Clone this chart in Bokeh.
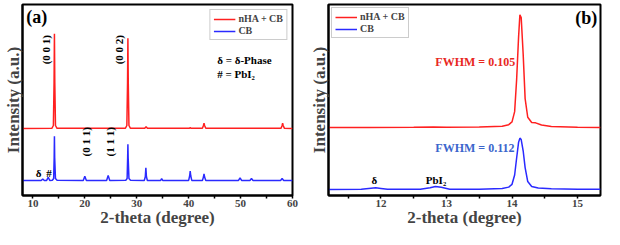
import numpy as np
from bokeh.plotting import figure
from bokeh.layouts import row
from bokeh.models import Range1d, Label, Legend, LegendItem, FixedTicker
from bokeh.embed import file_html
from bokeh.resources import INLINE

FONT = "Liberation Serif"
RED = "#ff2020"
BLUE = "#2a2aff"
RED_TXT = "#e8281e"
BLUE_TXT = "#3b66cc"
X_TITLE = "2-theta (degree)"
Y_TITLE = "Intensity (a.u.)"

# ---------------- panel (a): full pattern ----------------
a_nha_x = [8.0, 13.65, 13.95, 14.08, 14.15, 14.22, 14.35, 14.65, 27.8, 28.1, 28.23, 28.3, 28.37, 28.5, 28.8,
           31.55, 31.8, 32.05, 40.1, 40.3, 40.5, 42.65, 42.85, 42.96, 43.07, 43.3, 57.8, 58.0, 58.1, 58.2, 58.45, 60.0]
a_nha_y = [356, 357, 372, 600, 860, 600, 372, 357, 357, 372, 600, 835, 600, 372, 357,
           357, 366, 357, 357, 360, 357, 357, 372, 385, 372, 357, 357, 372, 384, 372, 357, 356]
a_cb_x = [8.0, 11.6, 11.9, 12.2, 12.65, 12.95, 13.25, 13.75, 14.0, 14.1, 14.15, 14.2, 14.35, 14.65,
          19.7, 20.0, 20.3, 24.2, 24.5, 24.8, 27.9, 28.15, 28.25, 28.3, 28.35, 28.5, 28.8,
          31.45, 31.65, 31.76, 31.87, 32.05, 34.6, 34.8, 35.0, 40.0, 40.2, 40.3, 40.4, 40.6,
          42.65, 42.85, 42.96, 43.07, 43.3, 49.6, 49.9, 50.2, 51.8, 52.1, 52.4, 57.7, 58.0, 58.3, 60.0]
a_cb_y = [80, 80, 88, 80, 80, 97, 80, 81, 90, 200, 315, 200, 90, 81,
          80, 102, 80, 80, 107, 80, 81, 90, 200, 272, 200, 90, 81,
          80, 100, 147, 100, 80, 80, 89, 80, 80, 105, 130, 105, 80,
          80, 98, 115, 98, 80, 80, 93, 80, 80, 90, 80, 80, 90, 80, 80]
a_xticks = [10, 20, 30, 40, 50, 60]

# ---------------- panel (b): zoom around 14 deg ----------------
b_nha_x = [11.2, 11.8, 12.5, 12.8, 13.0, 13.5, 13.85, 13.95, 14.0, 14.04, 14.07, 14.1, 14.12, 14.14,
           14.17, 14.2, 14.24, 14.3, 14.36, 14.45, 14.6, 15.0, 15.35]
b_nha_y = [365, 365, 366, 368, 366, 367, 372, 380, 395, 450, 620, 850, 970, 955,
           760, 520, 420, 392, 390, 378, 370, 366, 365]
b_cb_x = [11.2, 11.7, 11.85, 11.92, 12.0, 12.1, 12.6, 12.75, 12.83, 12.92, 13.05, 13.5, 13.85, 13.95,
          14.0, 14.04, 14.07, 14.1, 14.12, 14.14, 14.17, 14.2, 14.24, 14.3, 14.4, 14.6, 15.0, 15.35]
b_cb_y = [32, 33, 39, 41.5, 38, 33, 33, 42, 48.5, 44, 34, 34, 37, 45,
          60, 110, 200, 285, 308, 300, 240, 150, 75, 48, 40, 36, 34, 33]
b_xticks = [12, 13, 14, 15]


def make_fig(width, xr, yr, ticks, left_border, right_border):
    p = figure(width=width, height=229, output_backend="svg", toolbar_location=None,
               x_range=Range1d(*xr), y_range=Range1d(*yr),
               min_border_left=left_border, min_border_right=right_border,
               min_border_top=4, min_border_bottom=0)
    p.grid.visible = False
    p.outline_line_color = "black"
    p.outline_line_width = 2
    p.background_fill_color = "white"
    p.border_fill_color = "white"

    step = ticks[1] - ticks[0]
    xa = p.xaxis[0]
    xa.ticker = FixedTicker(ticks=ticks, minor_ticks=[t - step / 2 for t in ticks] + [ticks[-1] + step / 2])
    xa.axis_label = X_TITLE
    xa.axis_label_text_font = FONT
    xa.axis_label_text_font_style = "bold"
    xa.axis_label_text_font_size = "17px"
    xa.axis_label_standoff = -2
    xa.major_label_text_font = FONT
    xa.major_label_text_font_style = "bold"
    xa.major_label_text_font_size = "11px"
    xa.major_label_standoff = 1
    xa.axis_line_width = 2
    xa.major_tick_line_width = 1.5
    xa.minor_tick_line_width = 1.5
    xa.major_tick_out = 3
    xa.major_tick_in = 0
    xa.minor_tick_out = 3
    xa.minor_tick_in = 0

    ya = p.yaxis[0]
    ya.ticker = FixedTicker(ticks=[])
    ya.axis_label = Y_TITLE
    ya.axis_label_text_font = FONT
    ya.axis_label_text_font_style = "bold"
    ya.axis_label_text_font_size = "17px"
    ya.axis_label_standoff = 0
    ya.major_label_standoff = 0
    ya.major_tick_out = 0
    ya.minor_tick_out = 0
    ya.axis_line_width = 2
    return p


def style_legend(p, items, loc, margin):
    leg = Legend(items=items, location=loc)
    leg.label_text_font = FONT
    leg.label_text_font_style = "bold"
    leg.label_text_font_size = "10px"
    leg.label_height = 10
    leg.glyph_height = 10
    leg.glyph_width = 22
    leg.label_standoff = 3
    leg.spacing = 1
    leg.padding = 3
    leg.margin = margin
    leg.border_line_color = "#9a9a9a"
    leg.border_line_width = 1
    leg.background_fill_alpha = 1
    p.add_layout(leg)


def lbl(p, x, y, text, size, color="black", angle=0.0, align="left", baseline="middle"):
    p.add_layout(Label(x=x, y=y, text=text, text_font=FONT, text_font_style="bold",
                       text_font_size=size, text_color=color, angle=angle,
                       text_align=align, text_baseline=baseline))


# ---- figure (a)
p1 = make_fig(300, (8, 60), (0, 1015), a_xticks, 22, 8)
r1 = p1.line(a_nha_x, a_nha_y, line_color=RED, line_width=1.5)
r2 = p1.line(a_cb_x, a_cb_y, line_color=BLUE, line_width=1.5)
style_legend(p1, [LegendItem(label="nHA + CB", renderers=[r1]), LegendItem(label="CB", renderers=[r2])],
             "top_right", 5)
lbl(p1, 8.7, 948, "(a)", "18px")
lbl(p1, 12.5, 775, "(0 0 1)", "11px", angle=np.pi / 2, align="center")
lbl(p1, 26.6, 775, "(0 0 2)", "11px", angle=np.pi / 2, align="center")
lbl(p1, 20.3, 285, "(0 1 1)", "11px", angle=np.pi / 2, align="center")
lbl(p1, 24.9, 285, "(1 1 1)", "11px", angle=np.pi / 2, align="center")
lbl(p1, 11.1, 121, "δ", "11px", align="center")
lbl(p1, 13.1, 121, "#", "11px", align="center")
lbl(p1, 45.5, 720, "δ = δ-Phase", "11px")
lbl(p1, 45.5, 645, "# = PbI₂", "11px")

# ---- figure (b)
p2 = make_fig(304, (11.2, 15.35), (0, 1025), b_xticks, 28, 4)
s1 = p2.line(b_nha_x, b_nha_y, line_color=RED, line_width=1.5)
s2 = p2.line(b_cb_x, b_cb_y, line_color=BLUE, line_width=1.5)
style_legend(p2, [LegendItem(label="nHA + CB", renderers=[s1]), LegendItem(label="CB", renderers=[s2])],
             "top_left", 3)
lbl(p2, 15.3, 955, "(b)", "18px", align="right")
lbl(p2, 12.83, 716, "FWHM = 0.105", "12px", color=RED_TXT)
lbl(p2, 12.83, 255, "FWHM = 0.112", "12px", color=BLUE_TXT)
lbl(p2, 11.9, 82, "δ", "11px", align="center")
lbl(p2, 12.84, 82, "PbI₂", "11px", align="center")

layout = row(p1, p2)
open("out.html", "w").write(file_html(layout, INLINE))
